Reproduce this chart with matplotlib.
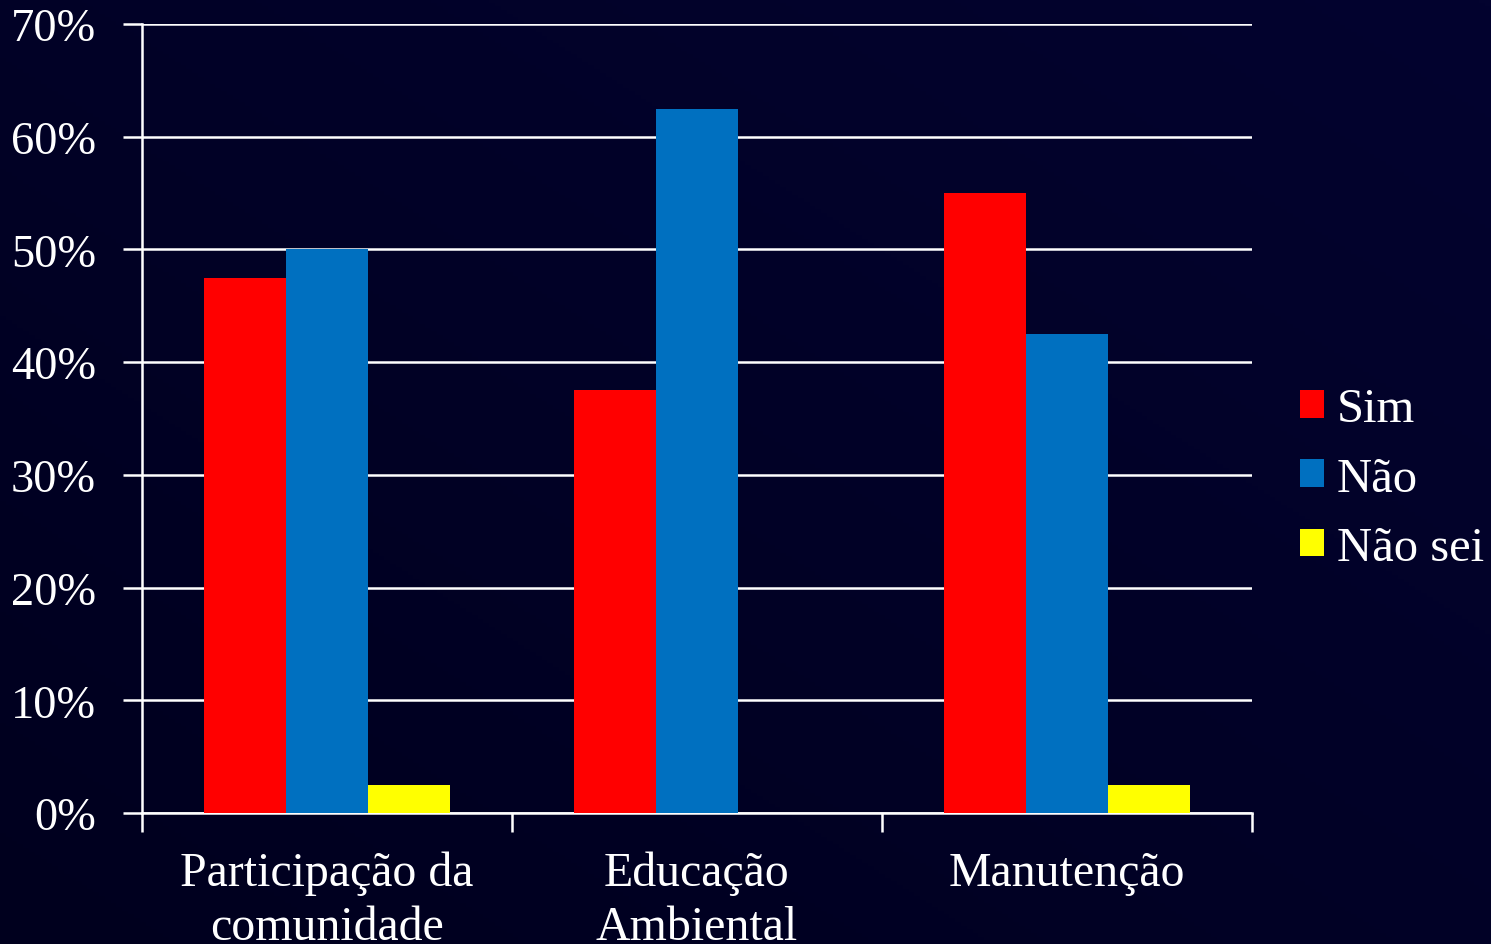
import numpy as np
import matplotlib.pyplot as plt
from matplotlib.colors import LinearSegmentedColormap
from matplotlib.ticker import PercentFormatter

categories = ["Participação da\ncomunidade", "Educação\nAmbiental", "Manutenção"]
series_names = ["Sim", "Não", "Não sei"]
sim = [47.5, 37.5, 55.0]
nao = [50.0, 62.5, 42.5]
nao_sei = [2.5, 0.0, 2.5]
colors = ["#ff0000", "#0070c0", "#ffff00"]

plt.rcParams['font.family'] = ['Liberation Serif', 'DejaVu Serif']

fig = plt.figure(figsize=(14.91, 9.45), dpi=100)
fig.patch.set_facecolor("#00002a")

# faint background gradient
bg = fig.add_axes([0, 0, 1, 1], zorder=-10)
grad = np.linspace(0, 1, 256)
gx, gy = np.meshgrid(grad, grad)
bg.imshow(0.5 * gx + 0.5 * (1 - gy),
          cmap=LinearSegmentedColormap.from_list("bg", ["#00001e", "#03032f"]),
          aspect="auto", extent=[0, 1, 0, 1])
bg.axis("off")

ax = fig.add_axes([0.0952, 0.1386, 0.7445, 0.8349])
ax.set_facecolor("none")

x = np.arange(len(categories))
w = 1 / 4.5
for i, (name, vals) in enumerate(zip(series_names, [sim, nao, nao_sei])):
    ax.bar(x + (i - 1) * w, vals, width=w, color=colors[i], label=name, zorder=3)

ax.set_xlim(-0.5, len(categories) - 0.5)
ax.set_ylim(0, 70)
ax.set_yticks(np.arange(0, 71, 10))
ax.yaxis.set_major_formatter(PercentFormatter(decimals=0))
ax.yaxis.grid(True, color="white", linewidth=1.8, zorder=0)

ax.set_xticks(np.arange(-0.5, len(categories), 1.0))
ax.set_xticklabels([])
ax.set_xticks(x, minor=True)
ax.set_xticklabels(categories, minor=True)
ax.tick_params(axis="x", which="minor", length=0, pad=27, labelsize=34.5, labelcolor="white")
ax.tick_params(axis="x", which="major", length=14, width=1.8, color="white")
ax.tick_params(axis="y", length=14, width=1.8, color="white", pad=19, labelsize=33.5, labelcolor="white")
for lbl in ax.get_xticklabels(minor=True):
    lbl.set_linespacing(1.3)

for s in ["top", "right"]:
    ax.spines[s].set_visible(False)
for s in ["left", "bottom"]:
    ax.spines[s].set_color("white")
    ax.spines[s].set_linewidth(1.8)

leg = ax.legend(loc="center left", bbox_to_anchor=(0.872, 0.4925),
                bbox_transform=fig.transFigure, frameon=False, borderpad=0,
                borderaxespad=0, fontsize=35, handlelength=0.5, handleheight=0.5,
                handletextpad=0.25, labelspacing=0.52, labelcolor="white")

fig.savefig("out.png", dpi=100, facecolor=fig.get_facecolor())
